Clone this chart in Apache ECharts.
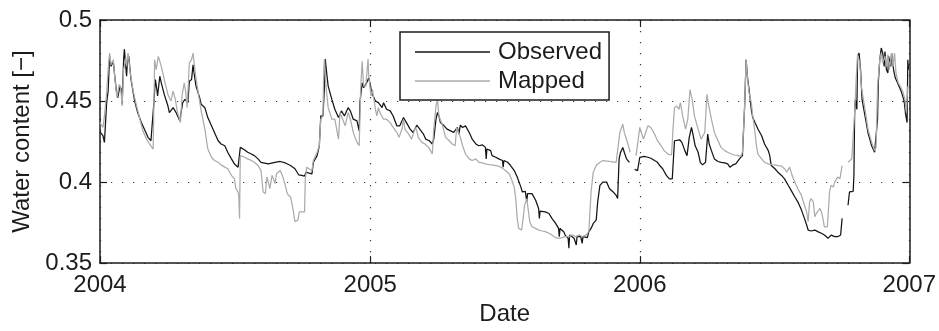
<!DOCTYPE html>
<html>
<head>
<meta charset="utf-8">
<title>Water content</title>
<script src="https://cdn.jsdelivr.net/npm/echarts@6/dist/echarts.min.js"></script>
<style>
  html, body { margin: 0; padding: 0; background: #fff; }
  #chart { width: 939px; height: 331px; }
</style>
</head>
<body>
<div id="chart"></div>
<script>
// Daily soil water content, 2004-2006. Days are counted from 1 Jan 2004; null marks a gap in the record.
const startDate = '2004-01-01';
const yearTicks = ['2004-01-01', '2005-01-01', '2006-01-01', '2007-01-01'];
const yTicks = [0.35, 0.4, 0.45, 0.5];
const seriesNames = ['Observed', 'Mapped'];

const obsDay = [0,1,4,6,9,11,13,15,18,20,22,24,27,29,30,32,33,36,37,39,42,45,47,51,56,60,65,69,71,73,75,77,78,81,83,87,92,94,99,103,108,112,115,119,121,124,126,128,130,135,137,142,146,151,155,160,164,169,173,178,182,187,189,190,192,196,200,205,209,214,218,
  228,237,244,251,258,264,269,273,277,279,282,287,289,294,297,299,302,304,305,307,309,314,318,323,327,331,336,339,343,348,351,352,355,357,359,361,364,366,368,373,377,382,384,388,393,397,402,406,411,415,420,424,429,433,438,441,
  446,450,452,455,457,459,461,466,470,475,479,484,486,488,491,495,500,504,509,513,518,522,523,524,529,531,536,540,545,546,547,552,556,561,565,570,572,576,578,579,585,590,594,595,596,603,608,612,617,621,622,623,628,630,634,635,636,642,644,645,646,651,653,654,660,662,
  665,668,672,674,677,681,686,688,690,695,699,701,703,705,708,710,713,715,717,720,724,728,731,733,737,742,746,751,755,758,762,767,771,775,778,780,785,788,792,795,798,801,803,806,810,813,816,820,823,825,828,832,837,841,846,850,853,857,861,866,870,873,875,877,879,882,884,887,
  891,896,900,905,907,909,914,918,923,927,932,936,941,945,950,954,957,959,963,968,972,977,981,986,990,995,999,1003,1005,1009,1013,1015,1020,1021,1022,1023,1025,1026,1028,1030,1032,1036,1040,1045,1049,1050,1053,1054,1056,1058,1060,1062,1063,1065,1067,1068,1071,1072,1075,1077,1081,1085,1089,1091,1093,1094,1095];
const obsVal = [0.431,0.4306,0.4286,0.4245,0.449,0.4561,0.4776,0.4714,0.4745,0.4653,0.4571,0.452,0.4592,0.4571,0.448,0.4755,0.482,0.4653,0.4735,0.4776,0.4633,0.4551,0.45,0.4429,0.4367,0.4327,0.4276,0.4255,0.4249,0.449,0.4633,0.4571,0.4531,0.4653,0.4612,0.4541,0.4469,0.4429,0.4459,0.4429,0.4378,0.449,0.451,0.449,0.4622,0.4633,0.4724,0.4653,0.4592,0.452,0.448,0.4459,0.4398,0.4347,0.4306,0.4255,0.4235,0.4224,0.4184,0.4143,0.4112,0.4092,0.4082,0.4214,0.4224,0.4198,0.4184,0.4173,0.4163,0.4143,0.4122,
  0.4112,0.4122,0.4127,0.4118,0.4102,0.4082,0.4045,0.4041,0.4037,0.4061,0.4057,0.4051,0.4122,0.4163,0.4224,0.4408,0.4408,0.4592,0.4759,0.4673,0.4592,0.451,0.4449,0.4398,0.4439,0.4408,0.4459,0.4439,0.4388,0.4378,0.4316,0.449,0.4612,0.4582,0.4571,0.4612,0.4643,0.4602,0.4551,0.45,0.449,0.4459,0.449,0.4449,0.4439,0.4408,0.4347,0.4347,0.4398,0.4367,0.4327,0.4306,0.4351,0.4327,0.4296,0.4265,
  0.4255,0.4235,0.4265,0.4388,0.4429,0.4408,0.4367,0.4347,0.4327,0.4316,0.4306,0.4337,0.4296,0.4351,0.4337,0.4347,0.4306,0.4265,0.4235,0.4224,0.4229,0.4214,0.4143,0.4204,0.4194,0.4163,0.4153,0.4143,0.4133,0.4092,0.4133,0.4122,0.4102,0.4071,0.4031,0.3969,0.3939,0.3943,0.3878,0.3929,0.3929,0.3888,0.3837,0.3776,0.382,0.3816,0.3806,0.3776,0.3745,0.3714,0.3663,0.3714,0.3694,0.3673,0.3653,0.3592,0.3673,0.3653,0.3663,0.3612,0.3663,0.3663,0.3622,0.3663,0.3657,0.3694,
  0.3714,0.3745,0.3765,0.3878,0.398,0.4,0.4,0.399,0.3959,0.3939,0.3918,0.3898,0.4143,0.4184,0.4214,0.4184,0.4143,0.4153,0.4122,null,0.4078,0.4071,0.4153,0.4163,0.4159,0.4153,0.4147,0.4133,0.4122,0.4102,0.4082,0.4041,0.402,0.402,0.4255,0.4265,0.4261,0.4245,0.4194,0.4163,0.4276,0.4337,0.4296,0.4224,0.4184,0.4122,0.4106,0.4122,0.4296,0.4235,0.4194,0.4143,0.4127,0.4122,0.4118,0.4112,0.4092,0.4106,0.4112,0.4143,0.4163,0.4469,0.4755,0.4643,0.4571,0.4449,0.4398,0.4367,
  0.4327,0.4286,0.4235,0.4194,0.4163,0.4102,0.4082,0.4061,0.4041,0.402,0.398,0.3949,0.3908,0.3878,0.3827,0.3776,0.3735,0.3704,0.3698,0.3704,0.3694,0.3684,0.3673,0.3653,0.3673,0.3663,0.3663,0.3673,0.3776,null,0.3857,0.3939,0.3943,0.4041,0.4429,0.451,0.4449,0.4776,0.4796,0.4694,0.451,0.4408,0.4306,0.4224,0.4184,0.4194,0.4388,0.4612,0.4755,0.4827,0.4796,0.4714,0.4806,0.4694,0.4673,0.4776,0.4714,0.4796,0.4684,0.4643,0.4602,0.4561,0.45,0.4418,0.4367,0.4755,0.4694];

const mapDay = [0,1,4,6,9,11,13,15,18,20,23,26,28,30,32,35,36,38,41,45,49,54,58,63,67,72,74,76,79,83,87,92,96,99,102,105,109,111,114,116,118,121,124,126,129,133,137,142,146,151,155,160,164,169,173,178,182,184,187,188,189,190,192,196,200,205,209,214,218,221,
  224,226,228,230,233,235,237,239,244,247,251,253,255,258,260,262,264,268,270,277,278,280,283,287,289,294,297,299,302,303,304,306,309,314,318,323,325,327,332,336,339,343,348,351,353,355,357,360,363,364,367,369,373,375,377,379,384,388,393,397,402,405,409,411,413,418,422,427,429,431,436,440,445,
  450,452,455,457,459,464,468,473,477,481,483,485,488,491,495,500,504,509,513,518,522,527,531,536,540,545,549,554,557,561,563,565,567,571,573,575,578,580,582,585,590,594,599,603,608,612,617,622,626,630,635,640,644,649,653,658,662,
  665,668,672,677,681,690,699,701,704,706,708,710,715,718,722,726,731,733,736,739,742,746,751,755,760,764,769,774,776,778,781,784,786,789,793,796,799,802,805,810,814,819,822,824,828,832,837,841,846,850,855,859,864,868,870,873,875,877,879,882,884,887,889,
  891,896,900,905,909,914,918,923,927,930,932,934,936,939,941,945,950,954,957,959,961,963,966,968,970,972,975,977,979,981,985,987,988,990,993,995,999,1002,1005,1009,1013,1018,1020,1022,1024,1026,1029,1031,1036,1040,1045,1049,1051,1053,1056,1058,1060,1063,1065,1067,1069,1072,1074,1076,1078,1081,1085,1087,1090,1092,1094];
const mapVal = [0.4367,0.4367,0.4337,0.4408,0.4551,0.4694,0.4796,0.4724,0.4755,0.4643,0.452,0.4602,0.4582,0.4469,0.4694,0.4765,0.4714,0.4796,0.4673,0.4561,0.448,0.4388,0.4316,0.4265,0.4235,0.4204,0.4755,0.4694,0.4776,0.4714,0.4633,0.4541,0.45,0.4561,0.451,0.4429,0.4367,0.4531,0.4612,0.4561,0.4459,0.4735,0.4755,0.4796,0.4673,0.4551,0.4439,0.4327,0.4204,0.4153,0.4133,0.4122,0.4106,0.4092,0.4082,0.4041,0.402,0.3959,0.3939,0.3908,0.3776,0.4163,0.4173,0.4153,0.4143,0.4133,0.4122,0.4102,0.4071,0.3939,
  0.3929,0.4031,0.4,0.3959,0.4041,0.402,0.399,0.4051,0.4071,0.4041,0.398,0.3939,0.3918,0.3908,0.3867,0.3816,0.3755,0.3765,0.3816,0.3816,0.402,0.4092,0.4082,0.4071,0.4133,0.4184,0.4224,0.4388,0.4408,0.4694,0.4755,0.4592,0.4459,0.4388,0.4388,0.4265,0.4429,0.4418,0.4347,0.4429,0.4388,0.4306,0.4245,0.4224,0.4571,0.4745,0.4592,0.4592,0.4759,0.4653,0.4531,0.4571,0.4449,0.4408,0.4459,0.4429,0.4388,0.4388,0.4367,0.4337,0.4306,0.4276,0.4327,0.4388,0.4327,0.4296,0.4265,0.4337,0.4316,0.4276,0.4245,0.4235,0.4214,
  0.4173,0.4327,0.4469,0.451,0.4408,0.4347,0.4276,0.4255,0.4235,0.4224,0.4337,0.4337,0.4276,0.4224,0.4173,0.4143,0.4133,0.4143,0.4122,0.4118,0.4112,0.4108,0.4106,0.4102,0.4098,0.4086,0.4071,0.4051,0.402,0.3969,0.3898,0.3776,0.3714,0.3704,0.3776,0.3857,0.3898,0.3827,0.3755,0.3724,0.3714,0.3704,0.3698,0.3694,0.3684,0.3673,0.3657,0.3653,0.3657,0.3663,0.3663,0.3673,0.3663,0.3673,0.3663,0.3673,0.3694,
  0.3939,0.4061,0.4102,0.4122,0.4133,0.4127,0.4122,0.4122,0.4306,0.4306,0.4357,0.4306,0.4235,0.4184,null,0.4163,0.4337,0.4327,0.4265,0.4306,0.4347,0.4337,0.4296,0.4255,0.4224,0.4194,0.4173,0.4167,0.4327,0.4459,0.4469,0.4449,0.449,0.4408,0.4327,0.4388,0.4571,0.451,0.4408,0.4327,0.4265,0.4306,0.4541,0.448,0.4388,0.4306,0.4255,0.4214,0.4194,0.4184,0.4173,0.4167,0.4163,0.4159,0.4184,0.4469,0.4755,0.4633,0.4551,0.449,0.4408,0.4306,0.4224,
  0.4173,0.4143,0.4122,0.4112,0.4108,0.4106,0.4102,0.4098,0.4082,0.4061,0.4071,0.4092,0.4061,0.402,0.4,0.3959,0.3918,0.3857,0.3816,0.3755,0.3878,0.3898,0.3878,0.3786,0.3806,0.3816,0.3837,0.3816,0.3776,0.3724,0.3724,0.3724,0.3939,0.398,0.3969,0.4,0.4031,0.402,0.4102,null,0.4122,0.4143,0.4133,0.4429,0.4633,0.4786,0.4735,0.4592,0.4449,0.4327,0.4245,0.4194,0.4214,0.4592,0.4755,0.4796,0.4735,0.4776,0.4714,0.4786,0.4694,0.4796,0.4714,0.4796,0.4673,0.4612,0.4582,0.4561,0.451,0.4429,0.4592];

const DAY_MS = 86400000;
const toTime = s => Date.parse(s + 'T00:00:00Z');
const t0 = toTime(startDate);
const yearTimes = yearTicks.map(toTime);
const toPoints = (days, vals) => days.map((d, i) => [t0 + d * DAY_MS, vals[i] === null ? '-' : vals[i]]);

const FONT = '"Liberation Sans", Arial, Helvetica, sans-serif';
const INK = '#1c1c1c';
const OBS_COLOR = '#141414';
const MAP_COLOR = '#ababab';
const frame = { show: true, onZero: false, lineStyle: { color: INK, width: 1.5 } };
const dotted = { show: true, lineStyle: { color: '#3a3a3a', width: 1.2, type: [1.2, 9.8] } };

// Date axis: a linear axis over millisecond timestamps, ticked at each new year.
const xBase = {
  type: 'value',
  min: yearTimes[0],
  max: yearTimes[yearTimes.length - 1],
  axisLine: frame,
  axisTick: { show: true, inside: true, length: 7, customValues: yearTimes, lineStyle: { color: INK, width: 1.2 } }
};
const yBase = {
  type: 'value',
  min: yTicks[0],
  max: yTicks[yTicks.length - 1],
  interval: 0.05,
  axisLine: frame,
  axisTick: { show: true, inside: true, length: 7, lineStyle: { color: INK, width: 1.2 } }
};

const chart = echarts.init(document.getElementById('chart'), null, { renderer: 'canvas' });
chart.setOption({
  animation: false,
  backgroundColor: '#fff',
  textStyle: { fontFamily: FONT },
  grid: { left: 100, right: 29, top: 20, bottom: 66, containLabel: false },
  legend: {
    data: seriesNames,
    orient: 'vertical',
    left: 400,
    top: 32,
    padding: [7, 7, 6, 15],
    itemGap: 3,
    icon: 'rect',
    itemWidth: 75,
    itemHeight: 1.3,
    backgroundColor: '#fff',
    borderColor: INK,
    borderWidth: 1.5,
    borderRadius: 0,
    textStyle: { fontFamily: FONT, fontSize: 24, color: INK, lineHeight: 26, padding: [0, 0, 0, 3] }
  },
  xAxis: [
    Object.assign({}, xBase, {
      position: 'bottom',
      name: 'Date',
      nameLocation: 'middle',
      nameGap: 33,
      nameTextStyle: { fontFamily: FONT, fontSize: 24, color: INK },
      axisLabel: {
        show: true, customValues: yearTimes, margin: 10,
        showMinLabel: true, showMaxLabel: true,
        fontFamily: FONT, fontSize: 24, color: INK,
        formatter: v => String(new Date(v).getUTCFullYear())
      },
      splitLine: dotted
    }),
    Object.assign({}, xBase, {
      position: 'top',
      axisLabel: { show: false },
      splitLine: { show: false }
    })
  ],
  yAxis: [
    Object.assign({}, yBase, {
      position: 'left',
      name: 'Water content [\u2212]',
      nameLocation: 'middle',
      nameGap: 66,
      nameTextStyle: { fontFamily: FONT, fontSize: 24, color: INK },
      axisLabel: {
        margin: 8, fontFamily: FONT, fontSize: 24, color: INK,
        showMinLabel: true, showMaxLabel: true,
        formatter: v => String(Number(v.toFixed(2)))
      },
      splitLine: dotted
    }),
    Object.assign({}, yBase, {
      position: 'right',
      axisLabel: { show: false },
      splitLine: { show: false }
    })
  ],
  series: [
    {
      name: seriesNames[0],
      type: 'line',
      xAxisIndex: 0, yAxisIndex: 0,
      data: toPoints(obsDay, obsVal),
      symbol: 'none',
      showSymbol: false,
      connectNulls: false,
      lineStyle: { color: OBS_COLOR, width: 1.25 },
      itemStyle: { color: OBS_COLOR },
      z: 2
    },
    {
      name: seriesNames[1],
      type: 'line',
      xAxisIndex: 0, yAxisIndex: 0,
      data: toPoints(mapDay, mapVal),
      symbol: 'none',
      showSymbol: false,
      connectNulls: false,
      lineStyle: { color: MAP_COLOR, width: 1.25 },
      itemStyle: { color: MAP_COLOR },
      z: 3
    }
  ]
});
</script>
</body>
</html>
